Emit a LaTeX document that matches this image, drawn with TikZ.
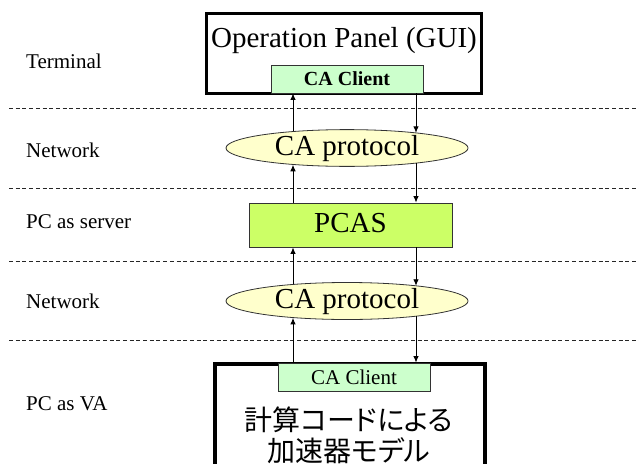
\documentclass[tikz,border=0pt]{standalone}
\usepackage{fontspec}
\setmainfont{Liberation Serif}
\newfontfamily\jpfont[RawFeature=+palt]{Noto Sans CJK JP}
\usetikzlibrary{arrows.meta,shapes.geometric}

\definecolor{clientgreen}{HTML}{CCFFCC}
\definecolor{protoyellow}{HTML}{FFFFCC}
\definecolor{pcaslime}{HTML}{CCFF66}
\definecolor{edgegray}{HTML}{333333}

\begin{document}
\begin{tikzpicture}[x=1pt,y=-1pt,
  layerlabel/.style={anchor=base west, inner sep=0, font=\fontsize{21}{21}\selectfont},
  divider/.style={draw=black!85, line width=1pt, dash pattern=on 4pt off 2.7pt},
  hostbox/.style={draw=black, line width=3.5pt, inner sep=0},
  client/.style={draw=edgegray, fill=clientgreen, line width=0.8pt,
    minimum width=152pt, minimum height=28pt, inner sep=0,
    font=\fontsize{21}{21}\selectfont},
  bigtext/.style={font=\fontsize{29}{29}\selectfont, text height=20pt, text depth=6pt},
  proto/.style={ellipse, draw=edgegray, fill=protoyellow, line width=0.8pt,
    minimum width=242pt, minimum height=36pt, inner sep=0, bigtext},
  flow/.style={-{Latex[length=6.5pt,width=5.5pt]}, line width=0.9pt, black},
  jptext/.style={anchor=base, inner sep=0, font=\jpfont\fontsize{28}{28}\selectfont},
]
\useasboundingbox (0,0) rectangle (639,463);
\clip (0,0) rectangle (639,463);

% layer separators
\foreach \yy in {108,188,261,340}
  \draw[divider] (9,\yy) -- (639,\yy);

% layer names
\node[layerlabel] (lterm) at (26,68)  {Terminal};
\node[layerlabel] (lnet1) at (26,157) {Network};
\node[layerlabel] (lsrv)  at (26,228) {PC as server};
\node[layerlabel] (lnet2) at (26,308) {Network};
\node[layerlabel] (lva)   at (26,410) {PC as VA};

% terminal
\node[hostbox, minimum width=275pt, minimum height=80pt] (gui) at (344,53.5) {};
\node[anchor=base, inner sep=0, font=\fontsize{29}{29}\selectfont] (guitxt) at (344,47) {Operation Panel (GUI)};
\node[client, font=\bfseries\fontsize{20}{20}\selectfont] (cl1) at (347,79) {CA Client};

% network and server
\node[proto] (ell1) at (347,148) {CA protocol};
\node[draw=edgegray, fill=pcaslime, line width=0.8pt, minimum width=203pt,
      minimum height=44pt, inner sep=0, bigtext] (pcas) at (350.5,225) {PCAS};
\node[proto, minimum height=37pt] (ell2) at (347,301) {CA protocol};

% virtual accelerator
\node[hostbox, minimum width=270pt, minimum height=130pt, anchor=north] (va) at (350,362) {};
\node[client] (cl2) at (354,377) {CA Client};
\node[jptext] (jp1) at (349,430) {計算コードによる};
\node[jptext] (jp2) at (349,461) {加速器モデル};

% request / reply flows
\coordinate (U) at (293,0);
\coordinate (D) at (416,0);
\draw[flow] (U |- ell1.163) -- (U |- cl1.south);
\draw[flow] (D |- cl1.south) -- (D |- ell1.12);
\draw[flow] (U |- pcas.north) -- (U |- ell1.197);
\draw[flow] (D |- ell1.348) -- (D |- pcas.north);
\draw[flow] (U |- ell2.163) -- (U |- pcas.south);
\draw[flow] (D |- pcas.south) -- (D |- ell2.12);
\draw[flow] (U |- cl2.north) -- (U |- ell2.197);
\draw[flow] (D |- ell2.348) -- (D |- cl2.north);
\end{tikzpicture}
\end{document}
